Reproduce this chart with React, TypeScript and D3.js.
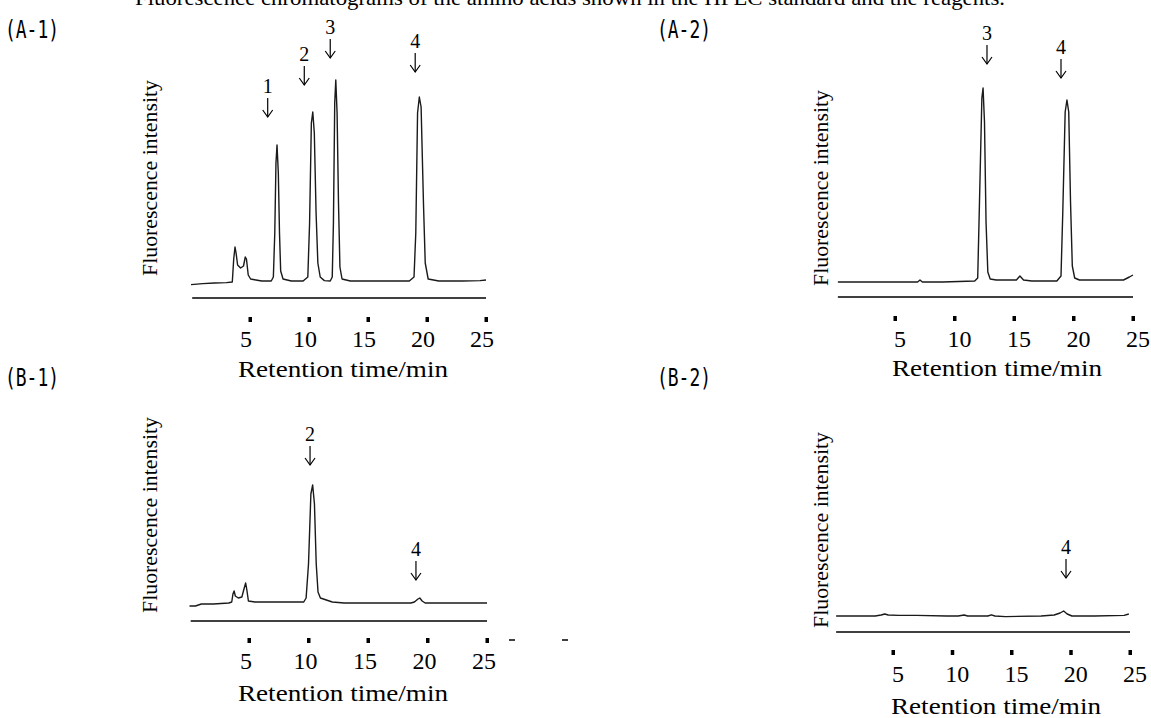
import React from "react";
import * as d3 from "d3";

// ---------- shared labels ----------
const TICK_VALUES = [5, 10, 15, 20, 25];
const X_TITLE = "Retention time/min";
const Y_TITLE = "Fluorescence intensity";
const CAPTION = "Fluorescence chromatograms of the amino acids shown in the HPLC standard and the reagents.";

// ---------- (A-1) ----------
const A1_TIME = [0, 1, 2, 3, 3.5, 3.62, 3.73, 3.82, 3.95, 4.2, 4.45, 4.6, 4.7, 4.85, 5.05, 5.5, 6, 6.8, 6.98, 7.1, 7.2, 7.29, 7.4, 7.5, 7.6, 7.8, 8.5, 9.5, 9.9, 10.05, 10.2, 10.32, 10.45, 10.6, 10.75, 10.95, 11.3, 11.8, 11.97, 12.07, 12.18, 12.27, 12.38, 12.5, 12.62, 12.8, 13.5, 15, 16.5, 18.5, 18.9, 19.05, 19.2, 19.35, 19.5, 19.7, 19.85, 20.1, 21, 23, 24.5, 25];
const A1_SIGNAL = [-0.8, -0.3, 0, 0.2, 0.5, 12, 18, 15, 9, 7.5, 8.5, 13, 12, 4, 2, 1.5, 1, 1, 3, 25, 60, 69, 55, 25, 6, 2, 1, 1, 3, 30, 80, 85.5, 75, 35, 10, 3, 1.2, 1, 3, 30, 90, 101.5, 85, 40, 8, 2, 1, 1, 1, 1, 3, 25, 85, 93, 88, 40, 10, 2, 1, 1, 1.2, 1.5];
const A1_PEAKS = ["1", "2", "3", "4"];
const A1_PEAK_TIME = [6.5, 9.6, 11.8, 19.0];
const A1_ARROW_TIP = [83, 99, 112.5, 105.5];

// ---------- (A-2) ----------
const A2_TIME = [0.2, 1, 3, 5, 6.9, 7.1, 7.3, 9, 11.7, 11.95, 12.1, 12.3, 12.4, 12.52, 12.65, 12.8, 13.0, 13.5, 15.2, 15.5, 15.8, 16.5, 18.6, 18.95, 19.1, 19.3, 19.45, 19.6, 19.75, 19.9, 20.1, 20.5, 23, 24.2, 24.7, 25];
const A2_SIGNAL = [0, 0, 0, 0, 0, 1, 0, 0, 0.5, 2, 40, 92, 97, 80, 30, 5, 1.5, 1, 1, 3, 1, 0.5, 0.5, 3, 35, 85, 91, 85, 40, 8, 2, 1, 1, 1, 2.5, 3.5];
const A2_PEAKS = ["3", "4"];
const A2_PEAK_TIME = [12.73, 18.95];
const A2_ARROW_TIP = [109, 102];

// ---------- (B-1) ----------
const B1_TIME = [0, 0.5, 1, 2, 3.3, 3.55, 3.65, 3.75, 3.85, 4.1, 4.4, 4.6, 4.72, 4.82, 4.95, 5.5, 8, 9.6, 9.8, 10.0, 10.2, 10.35, 10.5, 10.65, 10.8, 11.0, 11.5, 12, 13, 18.6, 18.9, 19.2, 19.35, 19.55, 19.8, 22, 25];
const B1_SIGNAL = [-1, -1, 0, 0, 0.5, 1, 5, 6.5, 4, 3, 3.5, 8, 10.5, 7, 1.5, 1, 1, 1, 3, 20, 55, 59.5, 50, 20, 6, 3, 2, 1, 0.5, 0.5, 1, 2.5, 3, 1.5, 0.5, 0.5, 0.5];
const B1_PEAKS = ["2", "4"];
const B1_PEAK_TIME = [10.13, 19.03];
const B1_ARROW_TIP = [69.5, 12];

// ---------- (B-2) ----------
const B2_TIME = [0.2, 3.5, 4.0, 4.3, 4.6, 5.5, 7, 9.5, 10.5, 11.0, 11.3, 13.0, 13.3, 13.6, 14.5, 17.5, 18.6, 19.1, 19.4, 19.7, 20.1, 22, 24.5, 24.9];
const B2_SIGNAL = [0, 0, 0.5, 1, 0.5, 0.3, 0.3, 0, 0, 0.5, 0, 0, 0.6, 0, -0.3, 0, 0.5, 1.5, 2.5, 1, 0, 0, 0.3, 1];
const B2_PEAKS = ["4"];
const B2_PEAK_TIME = [19.6];
const B2_ARROW_TIP = [19];

type Panel = {
  name: string;
  time: number[];
  signal: number[];
  peaks: string[];
  peakTime: number[];
  arrowTip: number[];
  x0: number; x25: number; axisStart: number;
  base: number; axisY: number; tickY: number; labelY: number; labelDx: number;
  titleX: number; titleY: number; ylabX: number; ylabY: number;
  plX: number; plY: number;
};

const PANELS: Panel[] = [
  { name: "(A-1)", time: A1_TIME, signal: A1_SIGNAL, peaks: A1_PEAKS, peakTime: A1_PEAK_TIME, arrowTip: A1_ARROW_TIP,
    x0: 191, x25: 486, axisStart: 0.1, base: 283, axisY: 298, tickY: 317, labelY: 347, labelDx: -4,
    titleX: 343, titleY: 377, ylabX: 157, ylabY: 178, plX: 5, plY: 38 },
  { name: "(A-2)", time: A2_TIME, signal: A2_SIGNAL, peaks: A2_PEAKS, peakTime: A2_PEAK_TIME, arrowTip: A2_ARROW_TIP,
    x0: 835.5, x25: 1133, axisStart: 0.2, base: 282, axisY: 297, tickY: 316, labelY: 347, labelDx: 5,
    titleX: 997, titleY: 376, ylabX: 828, ylabY: 188, plX: 657, plY: 38 },
  { name: "(B-1)", time: B1_TIME, signal: B1_SIGNAL, peaks: B1_PEAKS, peakTime: B1_PEAK_TIME, arrowTip: B1_ARROW_TIP,
    x0: 189.5, x25: 487, axisStart: 0.1, base: 604, axisY: 621, tickY: 638, labelY: 669, labelDx: -3,
    titleX: 343, titleY: 701, ylabX: 157, ylabY: 515, plX: 5, plY: 386 },
  { name: "(B-2)", time: B2_TIME, signal: B2_SIGNAL, peaks: B2_PEAKS, peakTime: B2_PEAK_TIME, arrowTip: B2_ARROW_TIP,
    x0: 833.75, x25: 1130, axisStart: 0.2, base: 616, axisY: 632, tickY: 650, labelY: 682, labelDx: 5,
    titleX: 996, titleY: 714, ylabX: 828, ylabY: 530, plX: 657, plY: 386 },
];

const SERIF = '"Liberation Serif", "Times New Roman", Times, serif';
const MONO = '"DejaVu Sans Mono", "Liberation Mono", monospace';

function PanelView({ p }: { p: Panel }) {
  const x = d3.scaleLinear().domain([0, 25]).range([p.x0, p.x25]);
  const y = d3.scaleLinear().domain([0, 100]).range([p.base, p.base - 200]);
  const pts: [number, number][] = p.time.map((t, i) => [t, p.signal[i]]);
  const line = d3.line<[number, number]>().x((d) => x(d[0])).y((d) => y(d[1]));
  return (
    <g>
      <text x={p.plX} y={p.plY} style={{ fontFamily: MONO }} fontSize={25} textLength={54} lengthAdjust="spacingAndGlyphs" fill="#000">{p.name}</text>
      <path d={line(pts) || ""} fill="none" stroke="#1a1a1a" strokeWidth={1.4} strokeLinejoin="round" />
      <line x1={x(p.axisStart)} x2={x(25)} y1={p.axisY} y2={p.axisY} stroke="#000" strokeWidth={1.5} />
      {TICK_VALUES.map((v) => (
        <g key={v}>
          <rect x={x(v) - 1.5} y={p.tickY} width={3.5} height={5} fill="#000" />
          <text x={x(v) + p.labelDx} y={p.labelY} textAnchor="middle" style={{ fontFamily: SERIF }} fontSize={24} fill="#000">{v}</text>
        </g>
      ))}
      <text x={p.titleX} y={p.titleY} textAnchor="middle" style={{ fontFamily: SERIF }} fontSize={23} textLength={210} lengthAdjust="spacingAndGlyphs" fill="#000">{X_TITLE}</text>
      <text transform={`translate(${p.ylabX},${p.ylabY}) rotate(-90)`} textAnchor="middle" style={{ fontFamily: SERIF }} fontSize={22} textLength={196} lengthAdjust="spacingAndGlyphs" fill="#000">{Y_TITLE}</text>
      {p.peaks.map((lab, i) => {
        const ax = x(p.peakTime[i]);
        const tip = y(p.arrowTip[i]);
        return (
          <g key={lab}>
            <text x={ax} y={tip - 24} textAnchor="middle" style={{ fontFamily: SERIF }} fontSize={20} fill="#000">{lab}</text>
            <line x1={ax} x2={ax} y1={tip - 19} y2={tip} stroke="#000" strokeWidth={1.2} />
            <path d={`M${ax - 5},${tip - 7} L${ax},${tip} L${ax + 5},${tip - 7}`} fill="none" stroke="#000" strokeWidth={1.2} />
          </g>
        );
      })}
    </g>
  );
}

export default function App() {
  return (
    <svg width={1151} height={718} style={{ position: "absolute", left: 0, top: 0, background: "#fff" }}>
      <rect x={0} y={0} width={1151} height={718} fill="#fff" />
      <text x={135} y={5} style={{ fontFamily: SERIF }} fontSize={22} textLength={870} lengthAdjust="spacingAndGlyphs" fill="#000">{CAPTION}</text>
      {PANELS.map((p) => <PanelView key={p.name} p={p} />)}
      <line x1={509} x2={515} y1={640} y2={640} stroke="#000" strokeWidth={1.5} />
      <line x1={562} x2={568} y1={640} y2={640} stroke="#000" strokeWidth={1.5} />
    </svg>
  );
}
